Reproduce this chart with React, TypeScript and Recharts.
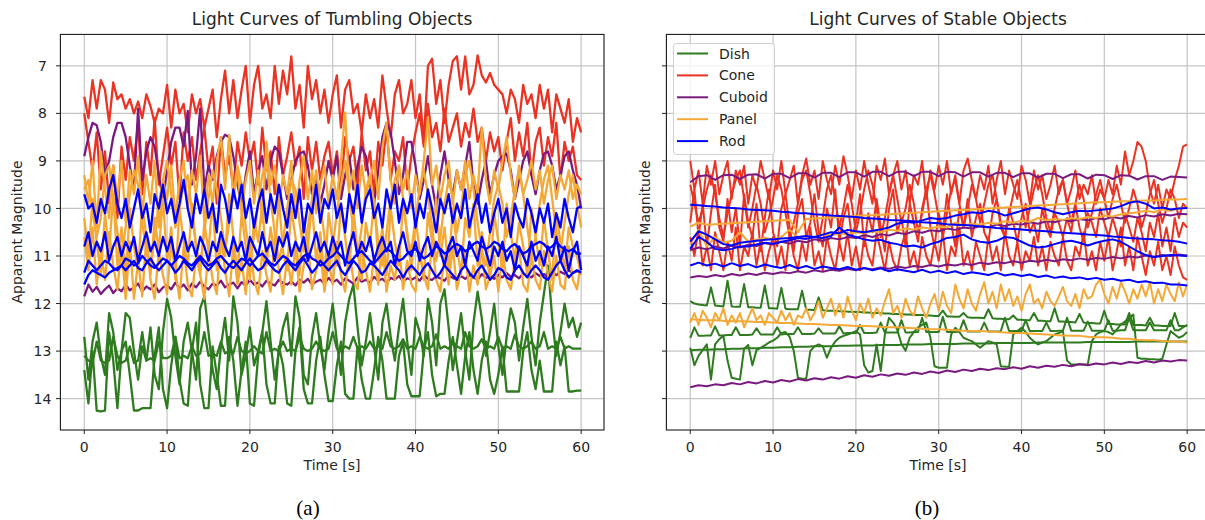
import { LineChart, Line, XAxis, YAxis, CartesianGrid } from "recharts";

const X_TICKS = [0, 10, 20, 30, 40, 50, 60];
const Y_TICKS = [7, 8, 9, 10, 11, 12, 13, 14];
const X_DOMAIN = [-2.93, 62.76];
const Y_DOMAIN = [6.33, 14.66];

const CLASSES = ["Dish", "Cone", "Cuboid", "Panel", "Rod"];
const COLORS: Record<string, string> = {
  Dish: "#2f7b1f",
  Cone: "#ea3323",
  Cuboid: "#7a1a80",
  Panel: "#f4a836",
  Rod: "#0000ff",
};

// ---- (a) tumbling objects, one value every 0.5 s ----
const TUMB_DISH_1 = [
  12.7, 13.6, 12.8, 12.4, 13.1, 13.5, 12.2, 12.6, 13.4, 13.0,
  12.2, 12.3, 13.0, 13.6, 12.9, 13.2, 12.5, 13.5, 13.8, 12.6,
  11.9, 12.3, 13.1, 13.7, 12.8, 12.4, 13.0, 13.6, 12.1, 11.85,
  12.6, 13.4, 13.8, 12.9, 12.3, 13.2, 11.85, 12.4, 13.5, 13.1,
  12.5, 13.3, 13.0, 12.6, 11.95, 12.8, 13.6, 13.0, 12.5, 12.2,
  13.1, 11.85, 12.3, 13.5, 13.7, 12.7, 12.2, 12.9, 13.4, 12.6,
  12.0, 12.8, 13.5, 12.4, 11.9, 11.6, 12.5, 13.3, 12.8, 12.2,
  12.9, 13.6, 12.4, 12.0, 12.7, 13.2, 12.5, 11.9, 12.8, 13.5,
  12.3, 12.6, 13.1, 11.9, 12.4, 13.3, 12.0, 11.7, 12.5, 13.4,
  12.8, 12.2, 13.0, 13.6, 12.4, 11.75, 12.3, 13.1, 12.6, 12.0,
  12.9, 13.5, 12.7, 12.1, 12.4, 13.2, 12.5, 11.9, 12.7, 13.3,
  12.4, 11.8, 11.2, 12.3, 13.1, 12.6, 12.0, 12.5, 12.3, 12.7,
  12.4,
];
const TUMB_DISH_2 = [
  13.4, 14.1, 13.0, 14.25, 14.27, 14.25, 12.6, 13.2, 14.2, 13.0,
  12.8, 13.5, 14.25, 14.25, 14.2, 14.2, 14.2, 13.1, 12.5, 13.8,
  14.2, 13.3, 12.7, 13.6, 14.1, 14.15, 13.0, 12.4, 13.7, 14.2,
  14.2, 12.9, 13.5, 14.15, 14.15, 12.7, 13.2, 14.15, 13.4, 12.8,
  14.1, 14.15, 13.1, 12.6, 13.7, 14.1, 14.1, 12.9, 13.3, 14.1,
  14.15, 13.0, 12.5, 13.8, 14.1, 14.1, 13.2, 12.7, 13.5, 14.05,
  14.05, 13.3, 12.8, 13.9, 14.0, 14.0, 12.9, 13.6, 14.0, 14.0,
  13.4, 12.7, 13.2, 14.0, 14.0, 14.0, 13.1, 12.8, 13.7, 13.95,
  13.95, 13.95, 13.0, 12.6, 13.5, 13.95, 13.9, 13.9, 13.2, 12.7,
  13.3, 13.9, 13.1, 12.6, 13.4, 13.9, 13.2, 12.8, 13.6, 13.9,
  13.5, 12.9, 13.85, 13.85, 13.85, 13.85, 13.0, 12.6, 13.4, 13.8,
  13.2, 13.85, 13.85, 13.85, 12.8, 13.3, 12.9, 13.85, 13.85, 13.83,
  13.83,
];
const TUMB_DISH_3 = [
  13.1, 13.2, 13.25, 12.8, 13.2, 13.25, 13.2, 12.7, 13.1, 13.25,
  13.2, 12.9, 13.25, 13.2, 12.6, 13.2, 13.15, 13.2, 12.8, 13.15,
  13.15, 13.1, 12.7, 13.15, 13.1, 13.15, 12.9, 13.1, 13.05, 12.6,
  13.1, 13.05, 13.1, 12.8, 13.05, 13.0, 13.05, 12.7, 13.0, 13.05,
  13.0, 12.9, 13.0, 13.05, 12.6, 13.0, 12.95, 13.0, 12.8, 13.0,
  12.95, 13.0, 12.7, 12.95, 13.0, 12.95, 12.8, 12.95, 13.0, 12.95,
  12.6, 12.95, 13.0, 12.9, 12.95, 12.7, 12.95, 12.9, 12.95, 12.8,
  12.95, 12.9, 12.95, 12.6, 12.9, 12.95, 12.9, 12.75, 12.95, 12.9,
  12.95, 12.7, 12.9, 12.95, 12.9, 12.65, 12.95, 12.9, 12.95, 12.8,
  12.9, 12.95, 12.6, 12.9, 12.95, 12.9, 12.75, 12.95, 12.9, 12.95,
  12.7, 12.95, 12.9, 12.95, 12.65, 12.9, 12.95, 12.9, 12.8, 12.95,
  12.9, 12.6, 12.95, 12.9, 12.95, 12.7, 12.95, 12.9, 12.95, 12.95,
  12.95,
];
const TUMB_CONE_1 = [
  7.65, 8.1, 7.3, 7.9, 7.3, 7.5, 8.2, 7.35, 7.7, 7.6,
  7.9, 7.7, 8.0, 7.75, 8.1, 7.6, 7.85, 8.2, 7.9, 8.0,
  7.4, 8.3, 7.5, 8.0, 7.8, 8.4, 7.6, 8.0, 7.7, 8.3,
  7.9, 7.5, 8.5, 7.7, 7.1, 8.0, 7.3, 8.1, 7.5, 7.0,
  8.2, 7.4, 7.0, 7.9, 7.6, 8.1, 7.0, 7.8, 7.1, 7.6,
  6.8, 7.9, 7.4, 8.3, 7.0, 7.7, 7.3, 8.0, 7.5, 8.2,
  7.6, 7.2, 8.3, 7.5, 7.3, 8.0, 7.8, 8.4, 7.6, 8.1,
  7.7, 8.3, 7.2, 7.9, 8.5, 7.6, 7.3, 8.0, 7.8, 7.3,
  8.1, 7.6, 8.6, 7.0, 6.85, 7.8, 7.3, 8.2, 7.4, 6.9,
  6.8, 7.5, 6.8, 7.6, 7.4, 6.78, 7.2, 7.35, 7.15, 7.4,
  7.5, 7.6, 8.0, 7.5, 7.7, 8.2, 7.4, 7.8, 7.6, 8.1,
  7.4, 7.9, 7.5, 8.4, 7.6, 7.9, 8.2, 7.7, 8.6, 8.1,
  8.4,
];
const TUMB_CONE_2 = [
  8.0, 8.6, 9.2, 8.4, 9.6, 8.8, 9.9, 9.1, 10.2, 8.7,
  9.4, 8.5, 9.0, 8.2, 9.7, 8.6, 9.3, 8.1, 9.5, 8.9,
  8.3, 9.1, 8.6, 9.8, 8.4, 9.0, 8.5, 9.4, 8.8, 8.3,
  9.2, 8.7, 9.9, 8.5, 9.3, 8.9, 9.6, 8.6, 9.1, 8.4,
  9.0, 8.6, 9.5, 8.3, 9.2, 8.8, 9.7, 8.5, 9.3, 8.9,
  8.4, 9.1, 8.7, 9.8, 8.5, 9.2, 8.6, 9.4, 8.9, 8.6,
  9.3, 8.8, 9.6, 8.5, 9.0, 8.7, 9.5, 8.4, 9.2, 8.8,
  9.7, 8.6, 9.1, 8.3, 9.4, 8.8, 9.0, 8.5, 9.6, 8.9,
  8.4, 8.0, 8.7, 7.8, 8.5, 8.2, 8.8, 7.9, 8.6, 8.3,
  8.0, 8.7, 8.2, 8.5, 7.9, 8.6, 8.3, 9.0, 8.4, 8.8,
  8.5, 9.2, 8.6, 8.1, 9.0, 8.4, 8.9, 8.2, 9.3, 8.6,
  8.3, 9.1, 8.5, 8.9, 8.2, 9.4, 8.6, 9.0, 8.7, 9.3,
  9.4,
];
const TUMB_CUBOID_1 = [
  8.9, 8.5, 8.2, 8.25, 8.6, 9.3, 9.0, 8.5, 8.2, 8.2,
  8.5, 9.1, 9.6, 7.9, 9.4, 8.8, 8.5, 8.7, 9.3, 9.8,
  9.2, 8.6, 8.3, 8.3, 8.7, 7.95, 9.5, 8.9, 7.9, 9.6,
  9.1, 9.4, 8.9, 8.6, 8.45, 8.5, 8.9, 9.5, 9.9, 9.3,
  8.8, 9.7, 9.2, 8.9, 9.6, 9.0, 8.7, 8.8, 9.3, 9.8,
  9.4, 9.0, 8.85, 8.8, 9.1, 9.7, 9.3, 9.9, 9.5, 9.0,
  9.4, 8.9, 9.8, 9.3, 8.9, 9.6, 9.1, 8.7, 8.9, 9.5,
  9.9, 9.2, 8.5, 8.2, 8.4, 9.0, 9.7, 9.3, 8.6, 8.6,
  9.1, 9.8, 9.4, 8.9, 9.5, 10.0, 9.3, 8.8, 9.4, 9.7,
  9.2, 9.6, 9.1, 8.6, 9.5, 9.9, 9.4, 9.0, 9.7, 9.3,
  9.0, 8.9, 8.85, 9.2, 9.8, 9.4, 9.0, 8.8, 9.3, 9.7,
  9.2, 8.85, 8.8, 9.1, 9.6, 9.3, 8.9, 8.8, 9.2, 9.5,
  10.0,
];
const TUMB_CUBOID_2 = [
  11.85, 11.6, 11.75, 11.65, 11.8, 11.7, 11.62, 11.78, 11.68, 11.74,
  11.6, 11.72, 11.66, 11.58, 11.74, 11.64, 11.7, 11.6, 11.76, 11.66,
  11.62, 11.7, 11.56, 11.68, 11.6, 11.72, 11.58, 11.66, 11.54, 11.64,
  11.7, 11.58, 11.62, 11.52, 11.66, 11.6, 11.56, 11.68, 11.55, 11.62,
  11.5, 11.6, 11.56, 11.64, 11.52, 11.58, 11.62, 11.5, 11.57, 11.6,
  11.53, 11.62, 11.5, 11.56, 11.48, 11.6, 11.54, 11.5, 11.58, 11.46,
  11.55, 11.5, 11.6, 11.47, 11.52, 11.58, 11.45, 11.54, 11.5, 11.56,
  11.44, 11.52, 11.48, 11.56, 11.46, 11.5, 11.42, 11.53, 11.47, 11.5,
  11.45, 11.52, 11.4, 11.48, 11.5, 11.43, 11.47, 11.52, 11.41, 11.46,
  11.5, 11.42, 11.48, 11.4, 11.45, 11.5, 11.38, 11.46, 11.42, 11.48,
  11.4, 11.45, 11.36, 11.44, 11.4, 11.47, 11.37, 11.42, 11.45, 11.36,
  11.42, 11.38, 11.44, 11.35, 11.4, 11.33, 11.38, 11.3, 11.36, 11.32,
  11.35,
];
const TUMB_PANEL_1 = [
  9.3, 9.9, 9.0, 10.4, 8.8, 9.6, 10.2, 9.1, 9.8, 9.0,
  10.3, 9.2, 9.7, 8.9, 10.1, 9.3, 9.9, 9.0, 10.4, 9.4,
  9.8, 9.1, 10.2, 9.4, 9.0, 10.0, 9.2, 9.7, 8.9, 10.3,
  9.3, 9.9, 9.0, 8.5, 9.6, 8.45, 9.8, 9.2, 10.1, 9.4,
  9.0, 9.9, 9.2, 10.3, 8.6, 9.5, 9.1, 10.0, 9.3, 9.7,
  9.0, 10.2, 9.4, 8.9, 9.8, 9.2, 10.1, 9.5, 9.1, 9.9,
  9.3, 9.8, 9.0, 7.98, 9.6, 9.2, 10.0, 9.1, 9.7, 9.4,
  9.0, 9.8, 8.7, 8.2, 9.4, 9.9, 9.1, 9.6, 9.2, 10.0,
  9.3, 9.7, 9.0, 8.08, 9.5, 9.1, 9.8, 9.3, 9.0, 9.9,
  9.2, 9.6, 9.0, 9.8, 9.3, 9.7, 8.3, 9.4, 9.9, 9.2,
  9.6, 9.0, 8.5, 9.3, 9.8, 9.1, 9.7, 9.4, 9.0, 9.6,
  9.2, 9.9, 9.4, 9.1, 9.8, 9.3, 9.6, 9.2, 9.8, 9.5,
  9.7,
];
const TUMB_PANEL_2 = [
  10.2, 11.0, 9.8, 10.7, 11.4, 10.1, 10.9, 9.7, 11.2, 10.4,
  11.5, 10.0, 10.8, 11.3, 9.9, 10.6, 11.4, 10.2, 10.9, 9.8,
  11.1, 10.4, 11.5, 10.0, 10.7, 11.2, 9.9, 10.8, 11.4, 10.3,
  10.9, 9.8, 11.3, 10.5, 11.0, 9.7, 10.6, 11.4, 10.1, 10.8,
  11.5, 10.2, 10.7, 9.9, 11.2, 10.4, 11.0, 9.8, 10.9, 11.3,
  10.0, 10.6, 11.4, 10.2, 10.8, 9.9, 11.1, 10.5, 11.5, 10.1,
  10.7, 11.2, 9.9, 10.6, 11.3, 10.0, 10.9, 11.5, 10.3, 10.8,
  9.8, 11.1, 10.4, 11.4, 10.0, 10.7, 11.2, 9.9, 10.5, 11.3,
  10.2, 10.9, 11.5, 10.1, 10.7, 9.8, 11.0, 10.4, 11.3, 10.0,
  10.8, 11.4, 10.2, 10.6, 9.9, 11.2, 10.5, 10.9, 11.5, 10.1,
  10.7, 11.3, 9.9, 10.5, 11.1, 10.3, 10.8, 11.4, 10.0, 10.6,
  11.2, 10.2, 10.9, 11.5, 10.1, 10.7, 11.3, 10.4, 10.8, 11.0,
  11.4,
];
const TUMB_PANEL_3 = [
  10.6, 11.3, 10.4, 11.6, 10.9, 11.5, 10.5, 11.2, 11.7, 10.8,
  11.9, 10.7, 11.9, 11.1, 11.85, 10.6, 11.5, 11.9, 10.9, 11.4,
  11.8, 10.7, 11.3, 11.9, 10.8, 11.6, 11.85, 11.0, 11.4, 11.9,
  10.9, 11.5, 11.8, 10.6, 11.3, 11.85, 10.8, 11.6, 11.1, 11.8,
  10.7, 11.5, 11.8, 10.9, 11.4, 11.75, 10.6, 11.3, 11.8, 11.0,
  11.6, 10.8, 11.75, 11.2, 10.7, 11.7, 11.3, 10.9, 11.75, 11.1,
  11.6, 10.7, 11.4, 11.75, 10.9, 11.5, 11.7, 10.8, 11.3, 11.75,
  11.0, 11.6, 10.7, 11.75, 11.2, 11.5, 10.8, 11.7, 11.1, 11.6,
  11.75, 10.9, 11.4, 11.7, 10.7, 11.5, 11.75, 11.0, 11.6, 10.8,
  11.7, 11.3, 10.9, 11.75, 11.2, 11.6, 10.8, 11.7, 11.4, 11.0,
  11.75, 10.9, 11.5, 11.7, 11.1, 10.8, 11.6, 11.75, 11.0, 11.5,
  11.7, 10.9, 11.4, 11.75, 11.0, 11.6, 11.7, 10.8, 11.5, 11.7,
  11.1,
];
const TUMB_PANEL_4 = [
  9.6, 9.4, 10.1, 10.6, 10.2, 9.3, 9.1, 9.8, 10.5, 11.0,
  10.4, 9.7, 9.2, 9.5, 10.3, 10.9, 11.3, 10.6, 9.9, 9.4,
  9.0, 9.7, 10.4, 10.0, 9.5, 9.3, 10.1, 10.8, 11.2, 10.5,
  9.8, 9.2, 9.6, 10.2, 10.9, 10.3, 9.7, 9.1, 9.5, 10.4,
  11.0, 10.6, 9.9, 9.3, 9.0, 9.8, 10.5, 11.1, 10.7, 10.0,
  9.4, 9.6, 10.3, 10.9, 10.4, 9.8, 9.2, 9.9, 10.6, 11.3,
  10.8, 10.1, 9.5, 9.0, 9.7, 10.5, 11.0, 10.4, 9.6, 9.3,
  9.9, 10.7, 11.2, 10.5, 9.8, 9.4, 9.1, 9.8, 10.6, 10.9,
  10.2, 9.6, 9.2, 9.7, 10.4, 11.1, 10.6, 9.9, 9.4, 9.8,
  10.5, 10.0, 9.3, 9.0, 9.6, 10.3, 10.9, 11.2, 10.5, 9.8,
  9.5, 9.9, 10.6, 10.2, 9.6, 9.2, 9.7, 10.4, 11.0, 10.6,
  9.9, 9.4, 9.1, 9.8, 10.5, 10.9, 10.3, 9.7, 9.3, 9.9,
  10.4,
];
const TUMB_ROD_1 = [
  9.7, 10.0, 9.9, 10.3, 9.8, 10.1, 9.6, 9.3, 9.9, 10.2,
  9.8, 10.4, 10.0, 9.6, 10.2, 9.9, 10.5, 9.7, 10.0, 9.5,
  10.1, 9.8, 10.3, 9.9, 9.4, 10.0, 10.4, 9.7, 10.1, 9.6,
  10.2, 9.9, 10.5, 9.5, 9.8, 10.3, 9.6, 10.0, 9.5, 10.2,
  9.8, 10.4, 9.9, 9.6, 10.3, 9.7, 10.1, 9.5, 10.0, 10.4,
  9.7, 10.2, 9.6, 10.5, 9.9, 10.1, 9.5, 10.3, 9.8, 10.0,
  9.6, 10.2, 9.9, 10.5, 9.7, 10.1, 9.5, 10.3, 9.8, 9.6,
  10.2, 9.9, 10.4, 9.6, 10.0, 9.5, 10.3, 9.8, 10.1, 9.7,
  10.4, 9.9, 10.2, 9.6, 10.0, 10.5, 9.8, 10.1, 9.7, 10.3,
  9.9, 10.2, 9.6, 10.4, 10.0, 9.7, 10.3, 9.9, 10.5, 10.1,
  9.8, 10.3, 10.0, 10.6, 9.9, 10.2, 10.4, 9.8, 10.1, 10.5,
  10.0, 10.3, 9.9, 10.6, 10.1, 10.4, 9.8, 10.2, 10.5, 10.0,
  9.95,
];
const TUMB_ROD_2 = [
  10.8, 10.5, 11.0, 10.7, 10.9, 10.5, 11.1, 10.8, 10.6, 11.0,
  10.7, 10.9, 10.6, 11.1, 10.8, 10.5, 10.9, 10.7, 11.0, 10.6,
  10.9, 10.6, 11.1, 10.8, 10.5, 10.9, 10.7, 11.0, 10.6, 10.8,
  11.1, 10.7, 10.9, 10.5, 10.8, 11.0, 10.6, 10.9, 10.7, 11.1,
  10.6, 10.8, 11.0, 10.5, 10.9, 10.7, 11.1, 10.6, 10.8, 10.5,
  11.0, 10.7, 10.9, 10.6, 11.1, 10.8, 10.5, 10.9, 10.7, 11.0,
  10.6, 10.9, 10.7, 11.2, 10.8, 10.5, 11.0, 10.7, 10.9, 10.6,
  11.1, 10.8, 10.6, 10.9, 10.7, 11.2, 10.8, 10.5, 10.9, 11.0,
  10.7, 11.1, 10.8, 10.6, 11.0, 10.7, 10.9, 11.2, 10.8, 10.6,
  11.0, 10.8, 11.2, 10.7, 10.9, 11.1, 10.6, 10.9, 11.2, 10.8,
  11.0, 10.7, 11.1, 10.9, 11.3, 10.8, 11.0, 11.2, 10.7, 11.1,
  10.9, 11.2, 10.8, 11.0, 10.6, 11.1, 10.8, 11.3, 10.9, 10.7,
  11.3,
];
const TUMB_ROD_3 = [
  11.35, 11.1, 11.2, 11.3, 11.2, 11.1, 11.15, 11.25, 11.3, 11.2,
  11.05, 11.1, 11.2, 11.15, 11.0, 11.1, 11.2, 11.25, 11.15, 11.05,
  11.1, 11.2, 11.1, 11.0, 11.05, 11.15, 11.2, 11.1, 11.0, 11.1,
  11.2, 11.15, 11.05, 11.0, 11.1, 11.2, 11.25, 11.15, 11.05, 11.1,
  11.2, 11.1, 11.0, 10.95, 11.05, 11.15, 11.2, 11.1, 11.0, 11.05,
  11.15, 11.2, 11.1, 11.0, 10.95, 11.05, 11.1, 11.2, 11.15, 11.05,
  11.0, 10.9, 11.0, 11.1, 11.15, 11.05, 10.95, 10.9, 11.0, 11.1,
  11.15, 11.05, 10.95, 10.85, 10.9, 11.0, 11.1, 11.05, 10.95, 10.9,
  10.85, 10.95, 11.05, 11.0, 10.9, 10.8, 10.85, 10.95, 10.9, 10.8,
  10.75, 10.8, 10.9, 10.85, 10.75, 10.7, 10.8, 10.85, 10.8, 10.7,
  10.75, 10.85, 10.9, 10.8, 10.75, 10.85, 10.95, 10.9, 10.8, 10.75,
  10.7, 10.75, 10.85, 10.8, 10.7, 10.8, 10.85, 10.9, 10.85, 10.95,
  10.95,
];
const TUMB_ROD_4 = [
  11.6, 11.4, 11.3, 11.35, 11.4, 11.45, 11.35, 11.3, 11.25, 11.2,
  11.3, 11.2, 11.1, 11.25, 11.3, 11.15, 11.05, 11.2, 11.3, 11.2,
  11.1, 11.2, 11.35, 11.25, 11.1, 11.2, 11.3, 11.15, 11.05, 11.2,
  11.3, 11.2, 11.1, 11.25, 11.35, 11.2, 11.1, 11.2, 11.3, 11.15,
  11.05, 11.2, 11.3, 11.25, 11.1, 11.2, 11.3, 11.35, 11.2, 11.1,
  11.2, 11.3, 11.15, 11.05, 11.2, 11.35, 11.25, 11.1, 11.2, 11.3,
  11.2, 11.1, 11.3, 11.4, 11.25, 11.1, 11.2, 11.35, 11.3, 11.15,
  11.2, 11.3, 11.4, 11.25, 11.1, 11.2, 11.3, 11.45, 11.3, 11.2,
  11.3, 11.4, 11.25, 11.15, 11.3, 11.45, 11.35, 11.2, 11.3, 11.4,
  11.5, 11.3, 11.2, 11.35, 11.45, 11.3, 11.2, 11.35, 11.5, 11.4,
  11.25, 11.3, 11.45, 11.5, 11.3, 11.2, 11.35, 11.45, 11.3, 11.2,
  11.3, 11.45, 11.5, 11.35, 11.2, 11.1, 11.3, 11.45, 11.35, 11.3,
  11.35,
];

// ---- (b) stable objects ----
// 0.5 s steps
const STAB_DISH_1 = [
  11.95, 12.0, 12.02, 12.03, 12.04, 11.66, 12.04, 12.05, 12.06, 11.52,
  12.06, 12.07, 12.07, 11.59, 12.08, 12.08, 12.09, 12.09, 11.62, 12.1,
  12.1, 12.11, 11.67, 12.11, 12.12, 12.12, 12.12, 11.73, 12.13, 12.13,
  12.14, 11.87, 12.14, 12.15, 12.15, 12.15, 12.16, 12.16, 12.17, 12.17,
  12.18, 12.18, 12.19, 12.19, 12.2, 12.2, 12.2, 12.21, 12.21, 12.22,
  12.22, 12.22, 12.23, 12.23, 12.24, 12.24, 12.24, 12.25, 12.25, 12.26,
  12.26, 12.15, 12.27, 12.27, 12.28, 12.28, 12.2, 12.29, 12.3, 12.3,
  12.3, 12.31, 12.12, 12.31, 12.32, 12.32, 12.33, 12.33, 12.25, 12.34,
  12.34, 12.35, 12.35, 12.2, 12.36, 12.36, 12.37, 12.37, 12.1, 12.38,
  12.38, 12.39, 12.39, 12.4, 12.22, 12.4, 12.41, 12.41, 12.42, 12.42,
  12.15, 12.43, 12.43, 12.44, 12.44, 12.44, 12.2, 12.45, 12.45, 12.45,
  12.46, 12.3, 12.46, 12.46, 12.47, 12.47, 12.47, 12.2, 12.47, 12.47,
  12.47,
];
const STAB_DISH_2 = [
  12.72, 12.5, 12.68, 12.68, 12.67, 12.67, 12.48, 12.67, 12.67, 12.66,
  12.66, 12.5, 12.66, 12.66, 12.66, 12.65, 12.52, 12.65, 12.65, 12.65,
  12.65, 12.5, 12.65, 12.64, 12.64, 12.64, 12.5, 12.64, 12.64, 12.64,
  12.63, 12.52, 12.63, 12.63, 12.63, 12.63, 12.48, 12.63, 12.62, 12.62,
  12.62, 12.45, 12.62, 12.62, 12.62, 12.61, 12.4, 12.61, 12.61, 12.61,
  12.61, 12.35, 12.61, 12.61, 12.6, 12.6, 12.3, 12.6, 12.6, 12.6,
  12.6, 12.28, 12.6, 12.6, 12.6, 12.59, 12.35, 12.59, 12.59, 12.59,
  12.59, 12.4, 12.59, 12.59, 12.59, 12.58, 12.3, 12.58, 12.58, 12.58,
  12.58, 12.35, 12.58, 12.58, 12.58, 12.58, 12.4, 12.58, 12.58, 12.57,
  12.57, 12.3, 12.57, 12.57, 12.57, 12.57, 12.38, 12.57, 12.57, 12.57,
  12.57, 12.35, 12.57, 12.57, 12.56, 12.56, 12.3, 12.56, 12.56, 12.56,
  12.56, 12.4, 12.56, 12.56, 12.56, 12.56, 12.35, 12.56, 12.56, 12.5,
  12.45,
];
const STAB_DISH_4 = [
  12.93, 13.3, 13.1, 12.98, 12.86, 13.6, 12.86, 12.75, 12.68, 13.2,
  13.56, 13.58, 13.6, 12.95, 12.87, 13.3, 12.98, 12.93, 12.88, 12.82,
  12.78, 12.72, 12.62, 12.6, 12.7, 13.0, 13.56, 13.58, 13.58, 13.0,
  12.9, 12.86, 12.9, 13.14, 12.93, 12.8, 12.72, 12.68, 12.65, 12.62,
  12.58, 12.65, 13.3, 13.45, 13.42, 12.86, 13.42, 12.65, 12.3, 12.4,
  12.55, 12.85, 12.99, 12.72, 12.6, 12.5, 12.45, 12.4, 12.72, 13.32,
  13.35, 13.35, 13.35, 12.65, 12.51, 12.6, 12.72, 12.76, 12.79, 12.86,
  12.93, 12.86, 12.79, 12.82, 12.86, 13.32, 13.33, 13.33, 12.65, 12.58,
  12.51, 12.6, 12.72, 12.8, 12.86, 12.82, 12.79, 12.72, 12.65, 12.62,
  12.58, 13.2, 13.28, 13.28, 13.28, 13.28, 13.28, 12.79, 12.65, 12.6,
  12.58, 12.6, 12.65, 12.55, 12.44, 12.38, 12.3, 12.23, 13.14, 13.16,
  13.16, 13.17, 13.17, 13.18, 13.16, 12.86, 12.58, 12.65, 12.72, 12.68,
  12.6,
];
const STAB_CONE_1 = [
  9.0, 9.6, 9.2, 9.9, 9.1, 9.5, 9.0, 9.7, 9.3, 9.0,
  9.8, 9.2, 9.5, 9.1, 9.9, 9.3, 9.6, 9.0, 9.4, 9.8,
  9.2, 9.6, 9.0, 9.7, 9.4, 9.1, 9.9, 9.3, 8.95, 9.5,
  9.2, 9.8, 9.0, 9.4, 9.7, 9.1, 9.5, 8.9, 9.3, 9.8,
  9.2, 9.6, 9.0, 9.5, 9.9, 9.1, 9.4, 8.95, 9.7, 9.3,
  9.0, 9.6, 9.2, 9.9, 9.3, 9.5, 9.0, 9.8, 9.2, 9.6,
  9.1, 9.5, 9.0, 9.7, 9.3, 9.9, 9.2, 8.95, 9.4, 9.8,
  9.3, 9.6, 9.1, 9.9, 9.4, 9.0, 9.7, 9.2, 9.5, 9.8,
  9.1, 9.4, 9.9, 9.2, 9.6, 9.3, 9.8, 9.5, 9.1, 9.7,
  9.4, 9.9, 9.6, 9.2, 9.8, 9.5, 9.7, 9.3, 9.9, 9.6,
  9.8, 9.4, 9.7, 9.1, 9.5, 8.8, 9.3, 9.0, 8.6, 8.7,
  9.0, 9.6, 9.9, 9.5, 10.0, 9.6, 9.8, 9.4, 9.1, 8.7,
  8.65,
];
const STAB_CONE_2 = [
  10.3, 9.6, 10.6, 9.9, 10.8, 10.1, 9.5, 10.4, 10.7, 9.8,
  10.5, 10.0, 10.8, 9.7, 10.3, 10.6, 9.9, 10.9, 10.2, 9.6,
  10.5, 10.8, 10.0, 9.7, 10.4, 10.9, 10.1, 9.8, 10.6, 10.3,
  9.7, 10.5, 10.8, 10.0, 10.4, 9.6, 10.7, 10.2, 9.9, 10.6,
  10.3, 9.7, 10.8, 10.1, 10.5, 9.8, 10.4, 10.9, 10.0, 9.6,
  10.5, 10.2, 10.8, 9.9, 10.3, 10.7, 10.0, 9.6, 10.4, 10.8,
  10.1, 10.5, 9.7, 10.3, 10.8, 10.0, 10.4, 9.8, 10.6, 10.2,
  9.9, 10.5, 10.7, 10.1, 9.8, 10.4, 10.6, 10.0, 10.3, 10.7,
  10.2, 9.9, 10.5, 10.3, 10.7, 10.0, 10.4, 10.6, 10.1, 10.3,
  10.6, 10.2, 10.5, 9.9, 10.4, 10.7, 10.1, 10.3, 10.6, 10.0,
  10.3, 10.6, 10.2, 10.5, 10.8, 10.1, 10.4, 10.7, 10.2, 10.5,
  10.9, 10.3, 10.6, 10.1, 10.8, 10.4, 10.9, 10.2, 10.6, 10.3,
  10.4,
];
const STAB_CONE_3 = [
  10.6, 11.0, 10.4, 11.2, 10.8, 11.3, 10.5, 10.9, 11.3, 10.7,
  11.1, 10.4, 11.3, 10.8, 11.0, 10.5, 11.2, 10.7, 11.3, 10.9,
  10.6, 11.2, 10.8, 11.3, 10.5, 11.0, 11.3, 10.7, 11.1, 10.4,
  11.2, 10.9, 11.3, 10.6, 11.0, 11.3, 10.7, 11.1, 10.5, 11.2,
  10.8, 11.3, 10.6, 11.0, 11.2, 10.5, 10.9, 11.3, 10.7, 11.1,
  11.3, 10.8, 10.5, 11.2, 10.9, 11.3, 10.6, 11.0, 11.2, 10.7,
  11.1, 10.5, 11.3, 10.8, 11.0, 10.4, 11.2, 10.9, 11.3, 10.7,
  11.0, 11.3, 10.6, 11.1, 10.8, 11.3, 10.5, 11.0, 11.2, 10.7,
  11.3, 10.9, 11.1, 10.6, 11.2, 10.8, 11.3, 10.7, 11.0, 11.2,
  10.6, 11.1, 11.3, 10.8, 11.0, 10.5, 11.2, 10.9, 11.3, 10.7,
  11.1, 10.6, 11.3, 10.9, 10.4, 11.2, 10.8, 11.3, 10.6, 11.0,
  11.4, 10.9, 11.2, 10.7, 11.3, 11.0, 11.4, 10.8, 11.2, 11.45,
  11.5,
];
const STAB_CONE_4 = [
  9.5, 9.9, 10.3, 10.0, 9.6, 9.3, 9.7, 10.2, 10.6, 10.1,
  9.7, 9.4, 9.2, 9.8, 10.4, 10.0, 9.5, 9.9, 10.5, 10.2,
  9.8, 9.3, 9.6, 10.1, 10.6, 10.3, 9.9, 9.4, 9.2, 9.7,
  10.3, 10.7, 10.2, 9.6, 9.3, 9.8, 10.4, 10.0, 9.5, 9.9,
  10.5, 10.1, 9.6, 9.2, 9.5, 10.0, 10.6, 10.2, 9.7, 9.3,
  9.8, 10.3, 10.0, 9.5, 9.9, 10.5, 10.1, 9.6, 9.3, 9.7,
  10.2, 10.6, 10.1, 9.6, 9.4, 9.9, 10.4, 10.0, 9.5, 9.8,
  10.3, 9.9, 9.5, 9.3, 9.8, 10.3, 10.6, 10.1, 9.7, 9.4,
  9.9, 10.4, 10.0, 9.6, 9.3, 9.7, 10.2, 10.5, 10.0, 9.6,
  9.4, 9.9, 10.3, 9.9, 9.5, 9.8, 10.4, 10.1, 9.7, 9.4,
  9.8, 10.2, 9.8, 9.5, 9.9, 10.3, 10.0, 9.6, 9.9, 10.4,
  10.1, 9.7, 9.4, 9.9, 10.3, 10.0, 9.6, 9.8, 10.2, 9.9,
  10.0,
];
const STAB_PANEL_2 = [
  12.4, 12.2, 12.45, 12.15, 12.3, 12.5, 12.2, 12.35, 12.1, 12.45,
  12.25, 12.4, 12.2, 12.5, 12.3, 12.1, 12.35, 12.25, 12.45, 12.2,
  12.3, 12.4, 12.15, 12.35, 12.2, 12.45, 12.25, 12.3, 12.1, 12.35,
  12.2, 11.95, 12.3, 12.1, 11.9, 12.25, 12.0, 12.3, 11.85, 12.15,
  12.35, 12.0, 12.2, 11.9, 12.3, 12.1, 12.25, 11.95, 11.7, 12.2,
  12.05, 12.3, 11.9, 12.15, 12.25, 11.85, 12.1, 12.3, 12.0, 11.8,
  12.15, 11.75, 12.05, 12.2, 11.6, 11.9, 12.1, 11.7, 12.0, 12.15,
  11.8, 11.55, 12.0, 11.75, 12.1, 11.6, 11.95, 11.7, 12.05, 11.85,
  12.15, 11.8, 11.6, 12.0, 11.9, 12.1, 11.75, 11.95, 12.05, 11.85,
  11.65, 11.95, 12.05, 11.8, 12.1, 11.7, 11.9, 11.85, 11.6, 11.5,
  11.8, 12.0, 11.65, 11.9, 11.55, 11.75, 12.0, 11.7, 11.9, 11.6,
  11.85, 11.55, 12.0, 11.7, 11.95, 11.6, 11.8, 11.95, 11.55, 11.85,
  11.6,
];
// 1 s steps
const STAB_DISH_3 = [
  12.98, 12.97, 12.97, 12.96, 12.96, 12.95, 12.95, 12.94, 12.94, 12.93,
  12.93, 12.92, 12.92, 12.91, 12.91, 12.9, 12.9, 12.9, 12.89, 12.89,
  12.88, 12.88, 12.88, 12.87, 12.87, 12.87, 12.86, 12.86, 12.86, 12.85,
  12.85, 12.85, 12.85, 12.84, 12.84, 12.84, 12.84, 12.83, 12.83, 12.83,
  12.83, 12.83, 12.82, 12.82, 12.82, 12.82, 12.82, 12.82, 12.81, 12.81,
  12.81, 12.81, 12.81, 12.81, 12.8, 12.8, 12.8, 12.8, 12.8, 12.8,
  12.8,
];
const STAB_CUBOID_1 = [
  9.45, 9.32, 9.3, 9.4, 9.3, 9.29, 9.38, 9.29, 9.28, 9.37,
  9.27, 9.27, 9.36, 9.26, 9.26, 9.35, 9.25, 9.25, 9.34, 9.24,
  9.24, 9.33, 9.23, 9.23, 9.32, 9.23, 9.23, 9.32, 9.23, 9.23,
  9.32, 9.23, 9.24, 9.33, 9.24, 9.24, 9.33, 9.25, 9.25, 9.34,
  9.26, 9.26, 9.35, 9.27, 9.27, 9.36, 9.28, 9.28, 9.37, 9.29,
  9.3, 9.38, 9.3, 9.31, 9.39, 9.32, 9.32, 9.4, 9.33, 9.34,
  9.35,
];
const STAB_CUBOID_2 = [
  10.88, 10.82, 10.86, 10.8, 10.84, 10.78, 10.82, 10.76, 10.79, 10.73,
  10.76, 10.7, 10.74, 10.68, 10.71, 10.65, 10.68, 10.62, 10.65, 10.6,
  10.62, 10.56, 10.6, 10.54, 10.57, 10.51, 10.54, 10.48, 10.51, 10.46,
  10.48, 10.42, 10.45, 10.4, 10.42, 10.37, 10.4, 10.34, 10.37, 10.32,
  10.34, 10.29, 10.32, 10.27, 10.29, 10.24, 10.27, 10.22, 10.25, 10.2,
  10.23, 10.18, 10.21, 10.16, 10.19, 10.14, 10.17, 10.12, 10.15, 10.11,
  10.12,
];
const STAB_CUBOID_3 = [
  11.45, 11.42, 11.44, 11.4, 11.43, 11.38, 11.41, 11.37, 11.4, 11.35,
  11.38, 11.34, 11.36, 11.32, 11.35, 11.3, 11.33, 11.29, 11.31, 11.27,
  11.3, 11.26, 11.28, 11.24, 11.27, 11.22, 11.25, 11.21, 11.23, 11.19,
  11.22, 11.18, 11.2, 11.16, 11.19, 11.14, 11.17, 11.13, 11.15, 11.11,
  11.14, 11.1, 11.12, 11.08, 11.11, 11.07, 11.09, 11.05, 11.08, 11.04,
  11.06, 11.02, 11.05, 11.01, 11.03, 10.99, 11.02, 10.98, 11.0, 10.97,
  10.99,
];
const STAB_CUBOID_4 = [
  13.76, 13.72, 13.74, 13.7, 13.72, 13.67, 13.7, 13.65, 13.68, 13.63,
  13.66, 13.61, 13.64, 13.59, 13.62, 13.57, 13.6, 13.55, 13.58, 13.53,
  13.56, 13.51, 13.54, 13.49, 13.52, 13.47, 13.5, 13.45, 13.48, 13.43,
  13.46, 13.41, 13.44, 13.39, 13.42, 13.37, 13.4, 13.36, 13.38, 13.34,
  13.37, 13.32, 13.35, 13.31, 13.33, 13.29, 13.32, 13.27, 13.3, 13.26,
  13.28, 13.24, 13.27, 13.23, 13.25, 13.21, 13.24, 13.2, 13.22, 13.19,
  13.2,
];
const STAB_PANEL_1 = [
  10.38, 10.3, 10.34, 10.33, 10.32, 10.31, 10.3, 10.29, 10.28, 10.27,
  10.26, 10.25, 10.24, 10.5, 10.22, 10.21, 10.2, 10.19, 10.18, 10.17,
  10.16, 10.15, 10.14, 10.13, 10.12, 10.11, 10.1, 10.09, 10.08, 10.07,
  10.06, 10.05, 10.04, 10.03, 10.02, 10.01, 10.0, 9.99, 9.98, 9.97,
  9.96, 9.95, 9.94, 9.93, 9.92, 9.91, 9.9, 9.89, 9.88, 9.87,
  9.87, 9.86, 9.85, 9.85, 9.84, 9.83, 9.83, 9.82, 9.81, 9.81,
  9.8,
];
const STAB_PANEL_3 = [
  12.33, 12.34, 12.35, 12.35, 12.36, 12.37, 12.37, 12.38, 12.39, 12.39,
  12.4, 12.41, 12.41, 12.42, 12.43, 12.43, 12.44, 12.45, 12.45, 12.46,
  12.47, 12.47, 12.48, 12.49, 12.5, 12.5, 12.51, 12.52, 12.53, 12.54,
  12.54, 12.55, 12.56, 12.57, 12.58, 12.58, 12.59, 12.6, 12.61, 12.62,
  12.62, 12.63, 12.64, 12.65, 12.66, 12.67, 12.68, 12.68, 12.7, 12.71,
  12.71, 12.72, 12.74, 12.74, 12.76, 12.77, 12.77, 12.79, 12.8, 12.8,
  12.82,
];
const STAB_PANEL_4 = [
  10.75, 10.45, 10.8, 10.6, 10.72, 10.68, 10.5, 10.7, 10.66, 10.62,
  10.65, 10.6, 10.45, 10.62, 10.58, 10.6, 10.55, 10.57, 10.52, 10.54,
  10.5, 10.52, 10.48, 10.5, 10.45, 10.47, 10.42, 10.44, 10.4, 10.42,
  10.38, 10.4, 10.3, 10.36, 10.32, 10.34, 10.3, 10.32, 10.27, 10.3,
  10.26, 10.28, 10.2, 10.25, 10.22, 10.24, 10.2, 10.22, 10.18, 10.2,
  10.15, 10.17, 10.12, 10.1, 10.08, 10.05, 10.08, 10.02, 10.05, 10.0,
  9.98,
];
const STAB_ROD_1 = [
  9.92, 9.93, 9.95, 9.96, 9.98, 9.99, 10.0, 10.02, 10.03, 10.04,
  10.05, 10.07, 10.08, 10.1, 10.1, 10.12, 10.13, 10.15, 10.16, 10.17,
  10.18, 10.2, 10.21, 10.22, 10.24, 10.25, 10.26, 10.27, 10.29, 10.3,
  10.31, 10.33, 10.34, 10.35, 10.36, 10.38, 10.39, 10.41, 10.42, 10.43,
  10.44, 10.46, 10.47, 10.48, 10.5, 10.51, 10.52, 10.53, 10.55, 10.56,
  10.57, 10.59, 10.6, 10.62, 10.63, 10.64, 10.65, 10.67, 10.68, 10.7,
  10.74,
];
const STAB_ROD_2 = [
  11.2, 11.14, 11.2, 11.16, 11.22, 11.15, 11.21, 11.17, 11.24, 11.18,
  11.22, 11.25, 11.19, 11.26, 11.21, 11.27, 11.22, 11.25, 11.28, 11.23,
  11.29, 11.25, 11.3, 11.26, 11.32, 11.28, 11.31, 11.34, 11.29, 11.35,
  11.31, 11.36, 11.32, 11.38, 11.34, 11.37, 11.4, 11.35, 11.41, 11.38,
  11.42, 11.39, 11.44, 11.41, 11.46, 11.43, 11.47, 11.45, 11.49, 11.46,
  11.5, 11.48, 11.52, 11.5, 11.55, 11.53, 11.57, 11.56, 11.6, 11.6,
  11.62,
];
const STAB_ROD_3 = [
  10.7, 10.48, 10.55, 10.65, 10.75, 10.78, 10.72, 10.7, 10.68, 10.66,
  10.65, 10.63, 10.62, 10.6, 10.58, 10.6, 10.55, 10.5, 10.52, 10.45,
  10.48, 10.5, 10.47, 10.44, 10.4, 10.32, 10.28, 10.3, 10.25, 10.2,
  10.22, 10.2, 10.15, 10.12, 10.08, 10.1, 10.05, 10.08, 10.15, 10.1,
  10.05, 10.0, 9.98, 10.02, 10.08, 10.12, 10.08, 10.05, 10.06, 10.04,
  10.02, 10.0, 9.95, 9.88, 9.85, 9.9, 10.0, 9.98, 10.02, 10.0,
  9.99,
];
const STAB_ROD_4 = [
  10.85, 10.6, 10.7, 10.85, 10.88, 10.85, 10.8, 10.8, 10.76, 10.72,
  10.74, 10.7, 10.67, 10.62, 10.64, 10.6, 10.62, 10.58, 10.4, 10.55,
  10.6, 10.65, 10.68, 10.66, 10.72, 10.75, 10.8, 10.78, 10.82, 10.75,
  10.7, 10.62, 10.6, 10.55, 10.65, 10.7, 10.72, 10.68, 10.6, 10.62,
  10.7, 10.78, 10.82, 10.8, 10.75, 10.7, 10.68, 10.72, 10.78, 10.72,
  10.68, 10.65, 10.7, 10.8, 10.9, 10.98, 11.02, 11.0, 10.98, 10.99,
  11.0,
];

type Curve = { cls: string; vals: number[]; step: number };

const TUMBLING: Curve[] = [
  { cls: "Dish", vals: TUMB_DISH_1, step: 0.5 },
  { cls: "Dish", vals: TUMB_DISH_2, step: 0.5 },
  { cls: "Dish", vals: TUMB_DISH_3, step: 0.5 },
  { cls: "Cone", vals: TUMB_CONE_1, step: 0.5 },
  { cls: "Cone", vals: TUMB_CONE_2, step: 0.5 },
  { cls: "Cuboid", vals: TUMB_CUBOID_1, step: 0.5 },
  { cls: "Cuboid", vals: TUMB_CUBOID_2, step: 0.5 },
  { cls: "Panel", vals: TUMB_PANEL_1, step: 0.5 },
  { cls: "Panel", vals: TUMB_PANEL_4, step: 0.5 },
  { cls: "Panel", vals: TUMB_PANEL_2, step: 0.5 },
  { cls: "Panel", vals: TUMB_PANEL_3, step: 0.5 },
  { cls: "Rod", vals: TUMB_ROD_1, step: 0.5 },
  { cls: "Rod", vals: TUMB_ROD_2, step: 0.5 },
  { cls: "Rod", vals: TUMB_ROD_3, step: 0.5 },
  { cls: "Rod", vals: TUMB_ROD_4, step: 0.5 },
];

const STABLE: Curve[] = [
  { cls: "Dish", vals: STAB_DISH_1, step: 0.5 },
  { cls: "Dish", vals: STAB_DISH_2, step: 0.5 },
  { cls: "Dish", vals: STAB_DISH_3, step: 1 },
  { cls: "Dish", vals: STAB_DISH_4, step: 0.5 },
  { cls: "Cone", vals: STAB_CONE_1, step: 0.5 },
  { cls: "Cone", vals: STAB_CONE_4, step: 0.5 },
  { cls: "Cone", vals: STAB_CONE_2, step: 0.5 },
  { cls: "Cone", vals: STAB_CONE_3, step: 0.5 },
  { cls: "Cuboid", vals: STAB_CUBOID_1, step: 1 },
  { cls: "Cuboid", vals: STAB_CUBOID_2, step: 1 },
  { cls: "Cuboid", vals: STAB_CUBOID_3, step: 1 },
  { cls: "Cuboid", vals: STAB_CUBOID_4, step: 1 },
  { cls: "Panel", vals: STAB_PANEL_1, step: 1 },
  { cls: "Panel", vals: STAB_PANEL_4, step: 1 },
  { cls: "Panel", vals: STAB_PANEL_2, step: 0.5 },
  { cls: "Panel", vals: STAB_PANEL_3, step: 1 },
  { cls: "Rod", vals: STAB_ROD_1, step: 1 },
  { cls: "Rod", vals: STAB_ROD_2, step: 1 },
  { cls: "Rod", vals: STAB_ROD_3, step: 1 },
  { cls: "Rod", vals: STAB_ROD_4, step: 1 },
];

const FONT = "'DejaVu Sans', Verdana, sans-serif";
const TEXT = "#262626";

function toPoints(vals: number[], step: number) {
  return vals.map((m, i) => ({ t: i * step, m }));
}

function YTickLabel(props: any) {
  const { y, payload } = props;
  return (
    <text x={42.5} y={y} dy="0.36em" textAnchor="middle" fontSize={14} fontFamily={FONT} fill={TEXT}>
      {payload.value}
    </text>
  );
}

function NoTick() {
  return <g />;
}

function LightCurvePanel({ curves, left, labels, width }: { curves: Curve[]; left: number; labels: boolean; width: number }) {
  return (
    <div style={{ position: "absolute", left, top: 0 }}>
      <LineChart width={620} height={520} margin={{ top: 34, right: 16, bottom: 0, left: 0 }}>
        <CartesianGrid stroke="#c4c4c4" strokeWidth={1.2} />
        <XAxis
          type="number"
          dataKey="t"
          domain={X_DOMAIN}
          ticks={X_TICKS}
          interval={0}
          allowDataOverflow
          height={90}
          axisLine={false}
          tickLine={{ stroke: "#222" }}
          tickSize={4}
          tickMargin={8}
          tick={{ fontSize: 14, fill: TEXT, fontFamily: FONT }}
        />
        <YAxis
          type="number"
          domain={Y_DOMAIN}
          ticks={Y_TICKS}
          interval={0}
          reversed
          allowDataOverflow
          width={60}
          axisLine={false}
          tickLine={{ stroke: "#222" }}
          tickSize={4}
          tick={labels ? YTickLabel : NoTick}
        />
        {curves.map((c, i) => (
          <Line
            key={i}
            data={toPoints(c.vals, c.step)}
            dataKey="m"
            type="linear"
            stroke={COLORS[c.cls]}
            strokeWidth={width}
            strokeLinejoin="round"
            dot={false}
            activeDot={false}
            isAnimationActive={false}
          />
        ))}
      </LineChart>
    </div>
  );
}

export default function App() {
  return (
    <div style={{ position: "absolute", left: 0, top: 0, width: 1205, height: 520, overflow: "hidden", background: "#fff" }}>
      <LightCurvePanel curves={TUMBLING} left={0} labels={true} width={2.3} />
      <LightCurvePanel curves={STABLE} left={606} labels={false} width={2} />
      <svg width={1205} height={520} style={{ position: "absolute", left: 0, top: 0, pointerEvents: "none" }}>
        <rect x={60.5} y={34.5} width={543.5} height={395.5} fill="none" stroke="#222" strokeWidth={1} />
        <rect x={666.5} y={34.5} width={543.5} height={395.5} fill="none" stroke="#222" strokeWidth={1} />
        <text x={332} y={24.5} textAnchor="middle" fontSize={17} fontFamily={FONT} fill={TEXT}>
          Light Curves of Tumbling Objects
        </text>
        <text x={938} y={24.5} textAnchor="middle" fontSize={17} fontFamily={FONT} fill={TEXT}>
          Light Curves of Stable Objects
        </text>
        <text x={332} y={470} textAnchor="middle" fontSize={14} fontFamily={FONT} fill={TEXT}>
          Time [s]
        </text>
        <text x={938} y={470} textAnchor="middle" fontSize={14} fontFamily={FONT} fill={TEXT}>
          Time [s]
        </text>
        <text transform="translate(22,232) rotate(-90)" textAnchor="middle" fontSize={14} fontFamily={FONT} fill={TEXT}>
          Apparent Magnitude
        </text>
        <text transform="translate(650,232) rotate(-90)" textAnchor="middle" fontSize={14} fontFamily={FONT} fill={TEXT}>
          Apparent Magnitude
        </text>
        <text x={308} y={514.5} textAnchor="middle" fontSize={21} fontFamily="'Liberation Serif', 'Times New Roman', serif" fill="#000">
          (a)
        </text>
        <text x={927} y={514.5} textAnchor="middle" fontSize={21} fontFamily="'Liberation Serif', 'Times New Roman', serif" fill="#000">
          (b)
        </text>
        <rect x={673.5} y={43.5} width={101} height={111} rx={3} fill="#fff" fillOpacity={0.8} stroke="#d0d0d0" />
        {CLASSES.map((cls, i) => {
          const cy = 53.5 + i * 21.9;
          return (
            <g key={cls}>
              <line x1={677} x2={708} y1={cy} y2={cy} stroke={COLORS[cls]} strokeWidth={2} />
              <text x={719} y={cy} dy="0.36em" fontSize={14} fontFamily={FONT} fill={TEXT}>
                {cls}
              </text>
            </g>
          );
        })}
      </svg>
    </div>
  );
}
